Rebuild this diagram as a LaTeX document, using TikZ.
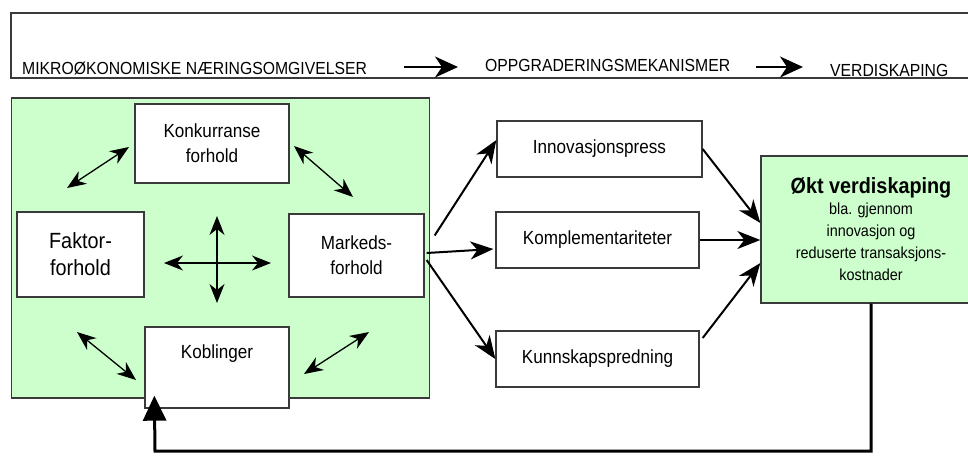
\documentclass[tikz,border=0pt]{standalone}
\usepackage{fontspec}
\setmainfont[FakeStretch=0.9]{Liberation Sans}
\usetikzlibrary{arrows.meta}
\definecolor{lgreen}{HTML}{CCFFCC}
\definecolor{bord}{HTML}{3A3A3A}
\begin{document}
\begin{tikzpicture}[x=1pt,y=-1pt,
  box/.style={draw=bord, line width=1.3pt, fill=white, inner sep=0pt, align=center},
  gbox/.style={draw=bord, line width=1.3pt, fill=lgreen, inner sep=0pt, align=center},
  toptext/.style={anchor=base west, inner sep=0pt, font=\fontsize{17.5}{20}\selectfont},
  boxtext/.style={font=\fontsize{19}{25}\selectfont},
  dbl/.style={{Stealth[length=19pt,width=15pt,inset=6pt]}-{Stealth[length=19pt,width=15pt,inset=6pt]}, line width=1.3pt},
  mainarrow/.style={-{Stealth[length=23pt,width=18pt,inset=7pt]}, line width=2pt},
  toparrow/.style={-{Stealth[length=23pt,width=21pt,inset=7pt]}, line width=1.8pt},
  fbarrow/.style={-{Triangle[length=25pt,width=23pt]}, line width=3pt}]
\useasboundingbox (0,0) rectangle (968,456);
\clip (0,0) rectangle (968,456);
\fill[white] (0,0) rectangle (968,456);

% top banner
\draw[line width=1.6pt, draw=bord] (990,13) -| (11,78) -- (990,78);
\node[toptext] (mikro) at (22,74) {MIKROØKONOMISKE NÆRINGSOMGIVELSER};
\node[toptext] (opp) at (485,71) {OPPGRADERINGSMEKANISMER};
\node[toptext] (verdi) at (830,76) {VERDISKAPING};
\coordinate (a1s) at (404,67); \coordinate (a1e) at (458,67);
\coordinate (a2s) at (756,67); \coordinate (a2e) at (803,67);
\draw[toparrow] (a1s) -- (a1e);
\draw[toparrow] (a2s) -- (a2e);

% green environment panel
\node[gbox, minimum width=418, minimum height=300] (env) at (220.5,248) {};
\node[box, boxtext, minimum width=154, minimum height=79] (konk) at (212,143.5) {Konkurranse\\forhold};
\node[box, font=\fontsize{22}{27}\selectfont, minimum width=127, minimum height=85] (fak) at (80.5,254.5) {Faktor-\\forhold};
\node[box, boxtext, minimum width=135, minimum height=83] (mark) at (356.5,255.5) {Markeds-\\forhold};
\node[box, minimum width=144, minimum height=81] (kob) at (217,367.5) {};
\node[boxtext, anchor=base] (kobt) at (217,358) {Koblinger};

% inner double arrows
\coordinate (d1a) at (67,188); \coordinate (d1b) at (129,147);
\coordinate (d2a) at (294,146); \coordinate (d2b) at (353,197);
\coordinate (d3a) at (77,332); \coordinate (d3b) at (136,380);
\coordinate (d4a) at (304,374); \coordinate (d4b) at (369,332);
\coordinate (hL) at (164,263); \coordinate (hR) at (271,263);
\coordinate (vT) at (217,216); \coordinate (vB) at (217,303);
\draw[dbl] (d1a) -- (d1b);
\draw[dbl] (d2a) -- (d2b);
\draw[dbl] (d3a) -- (d3b);
\draw[dbl] (d4a) -- (d4b);
\draw[dbl] (hL) -- (hR);
\draw[dbl] (vT) -- (vB);

% mechanisms
\node[box, boxtext, minimum width=205, minimum height=56] (innov) at (599.5,149) {Innovasjonspress};
\node[box, boxtext, minimum width=203, minimum height=56] (kompl) at (597.5,240) {Komplementariteter};
\node[box, boxtext, minimum width=203, minimum height=56] (kunn) at (597.5,359) {Kunnskapspredning};

% value creation
\node[gbox, minimum width=220, minimum height=147, font=\fontsize{16}{22}\selectfont] (okt) at (871,229.5)
  {{\fontsize{22}{26}\selectfont\bfseries Økt verdiskaping}\\[-1pt]bla. gjennom\\innovasjon og\\reduserte transaksjons-\\kostnader};

% arrows
\draw[mainarrow] ([xshift=10pt,yshift=20pt]mark.east) -- ([yshift=9pt]innov.west);
\draw[mainarrow] ([xshift=2pt,yshift=2.5pt]mark.east) -- ([xshift=-2pt,yshift=-9pt]kompl.west);
\draw[mainarrow] ([xshift=2pt,yshift=-4.5pt]mark.east) -- ([yshift=0pt]kunn.west);
\draw[mainarrow] (innov.east) -- ([yshift=6.5pt]okt.west);
\draw[mainarrow] (kompl.east) -- ([yshift=-10.5pt]okt.west);
\draw[mainarrow] ([xshift=3pt,yshift=21pt]kunn.east) -- ([yshift=-33.5pt]okt.west);

% feedback
\coordinate (fb) at (155,451);
\draw[fbarrow] (okt.south) |- (fb) -- ([xshift=10pt,yshift=13pt]kob.south west);
\end{tikzpicture}
\end{document}
